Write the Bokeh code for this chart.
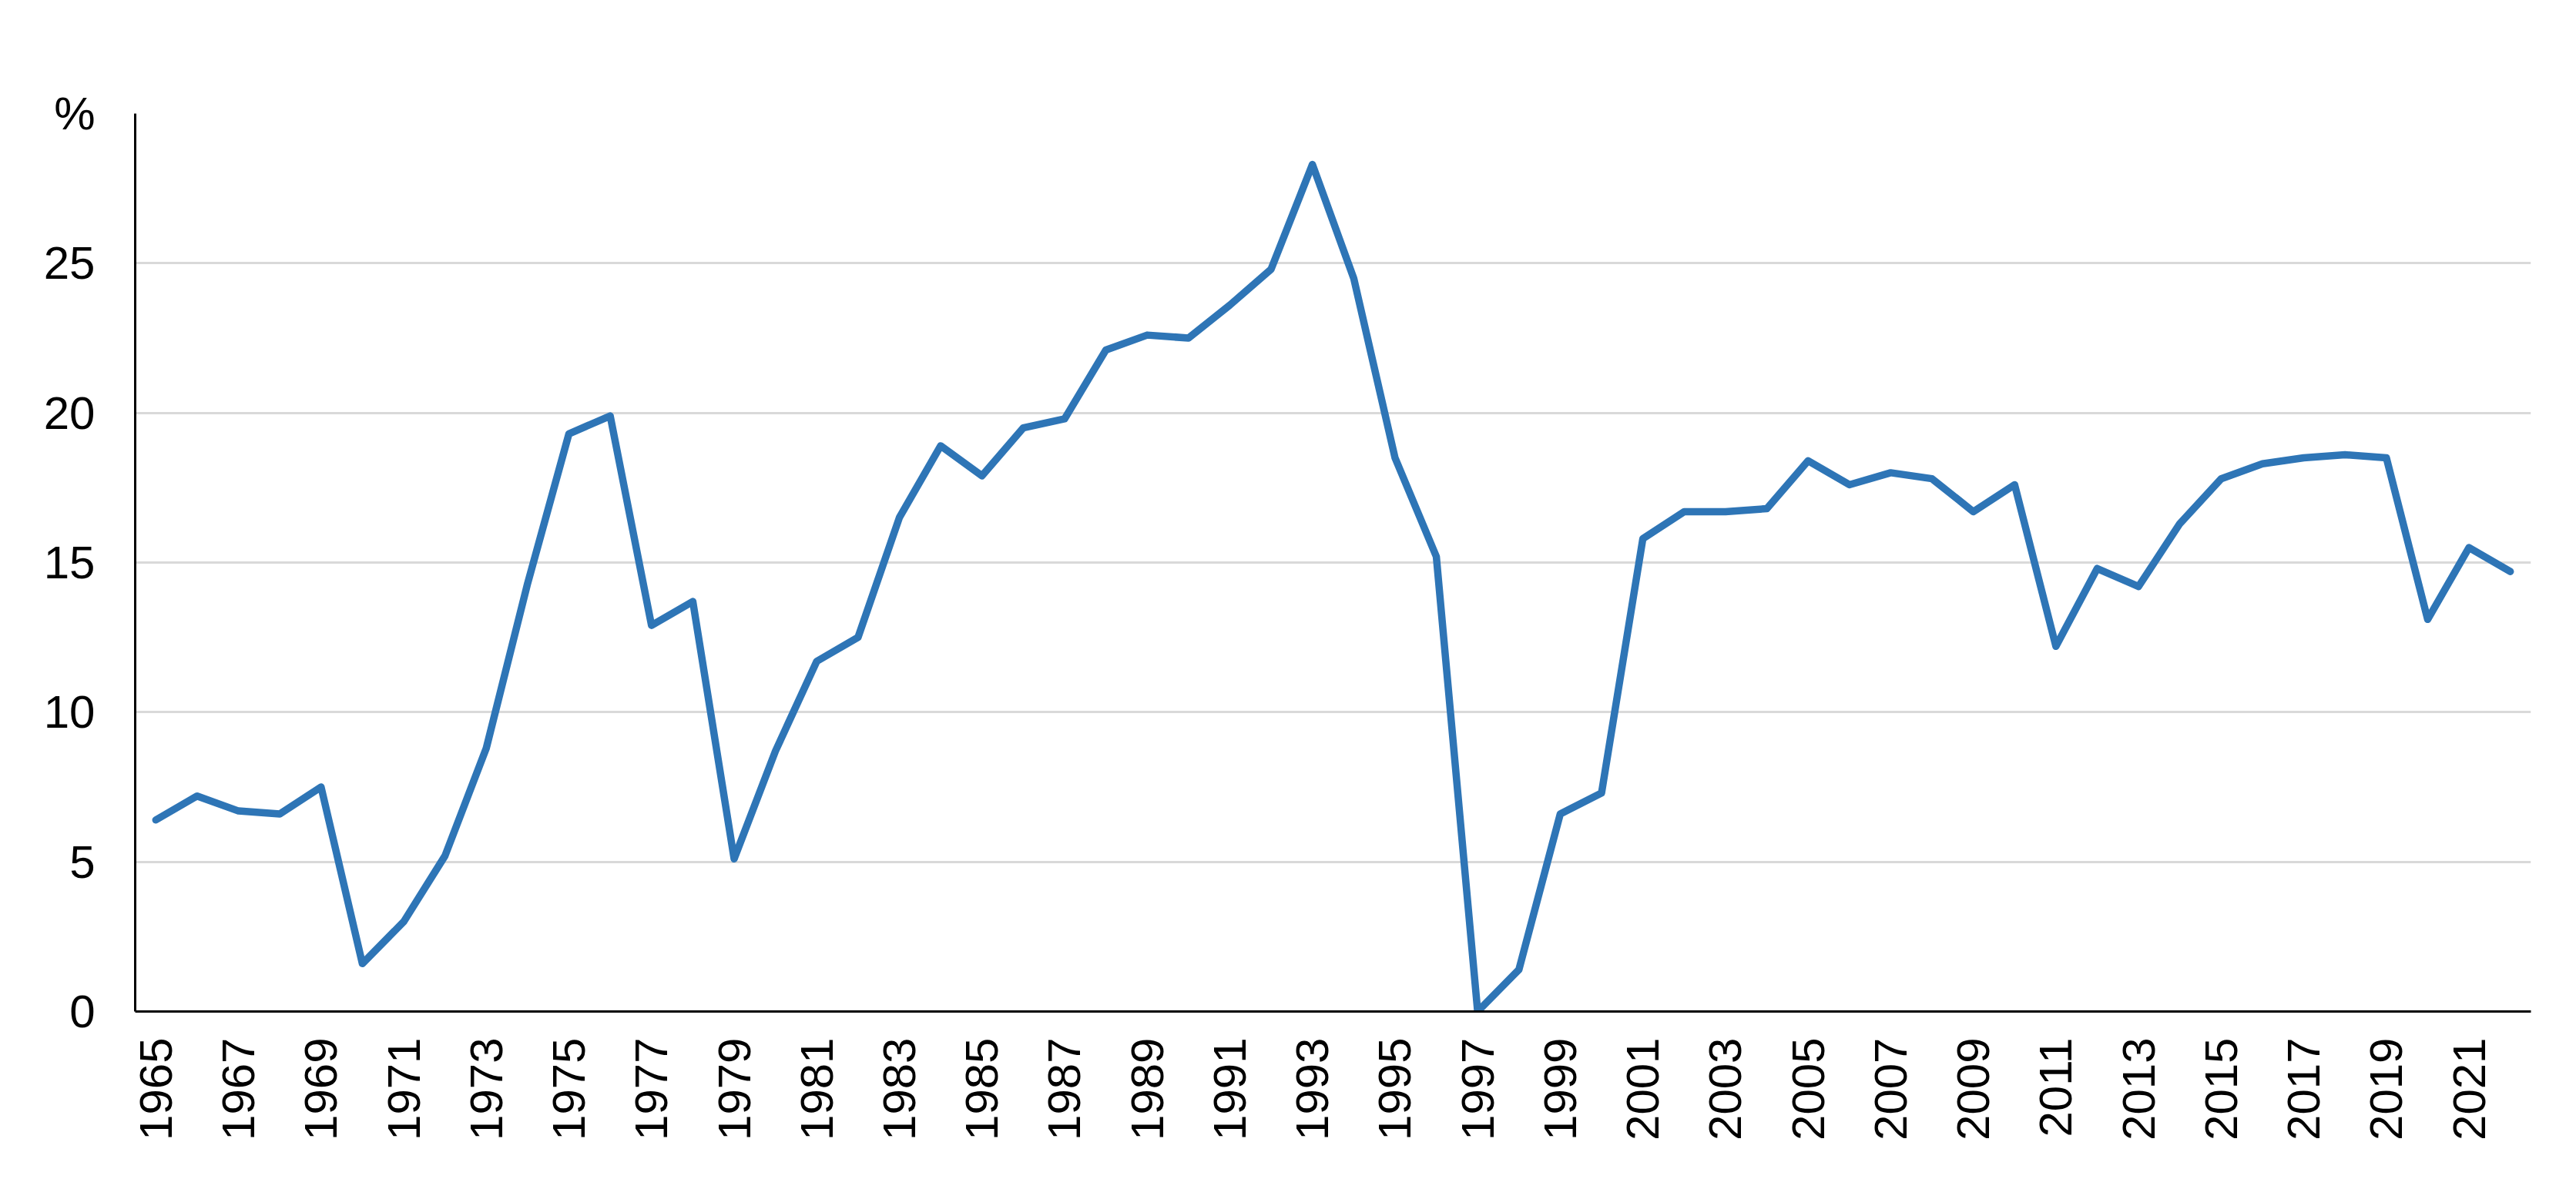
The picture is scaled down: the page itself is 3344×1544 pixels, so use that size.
import math
from bokeh.plotting import figure
from bokeh.models import Range1d, FixedTicker
from bokeh.embed import file_html
from bokeh.resources import INLINE

years = list(range(1965, 2023))
values = [6.4, 7.2, 6.7, 6.6, 7.5, 1.6, 3.0, 5.2, 8.8, 14.3,
          19.3, 19.9, 12.9, 13.7, 5.1, 8.7, 11.7, 12.5, 16.5, 18.9,
          17.9, 19.5, 19.8, 22.1, 22.6, 22.5, 23.6, 24.8, 28.3, 24.5,
          18.5, 15.2, 0.0, 1.4, 6.6, 7.3, 15.8, 16.7, 16.7, 16.8,
          18.4, 17.6, 18.0, 17.8, 16.7, 17.6, 12.2, 14.8, 14.2, 16.3,
          17.8, 18.3, 18.5, 18.6, 18.5, 13.1, 15.5, 14.7]
x_ticks = list(range(1965, 2023, 2))
y_ticks = [0, 5, 10, 15, 20, 25, 30]
y_unit = "%"

FONT = "Liberation Sans"
FS = "60px"

p = figure(frame_width=3110, frame_height=1166,
           min_border_left=175, min_border_top=147,
           min_border_right=35, min_border_bottom=207,
           x_range=Range1d(1964.5, 2022.5), y_range=Range1d(0, 30),
           output_backend="svg", toolbar_location=None)
p.outline_line_color = None
p.background_fill_color = "white"
p.border_fill_color = "white"

p.line(years, values, line_color="#2E75B6", line_width=9.5,
       line_join="round", line_cap="round")

xa = p.xaxis[0]
xa.ticker = FixedTicker(ticks=x_ticks)
xa.major_label_orientation = math.pi / 2
xa.major_label_text_font = FONT
xa.major_label_text_font_size = FS
xa.major_label_text_color = "black"
xa.major_tick_out = 0
xa.major_tick_in = 0
xa.minor_tick_out = 0
xa.minor_tick_in = 0
xa.major_label_standoff = 34
xa.axis_line_color = "black"
xa.axis_line_width = 3

ya = p.yaxis[0]
ya.ticker = FixedTicker(ticks=y_ticks)
ya.major_label_overrides = {30: y_unit}
ya.major_label_text_font = FONT
ya.major_label_text_font_size = FS
ya.major_label_text_color = "black"
ya.major_tick_out = 0
ya.major_tick_in = 0
ya.minor_tick_out = 0
ya.minor_tick_in = 0
ya.major_label_standoff = 52
ya.axis_line_color = "black"
ya.axis_line_width = 3

p.xgrid.grid_line_color = None
p.ygrid.grid_line_color = "#d9d9d9"
p.ygrid.grid_line_width = 3
p.ygrid.ticker = FixedTicker(ticks=y_ticks[1:])

open("out.html", "w").write(file_html(p, INLINE))
